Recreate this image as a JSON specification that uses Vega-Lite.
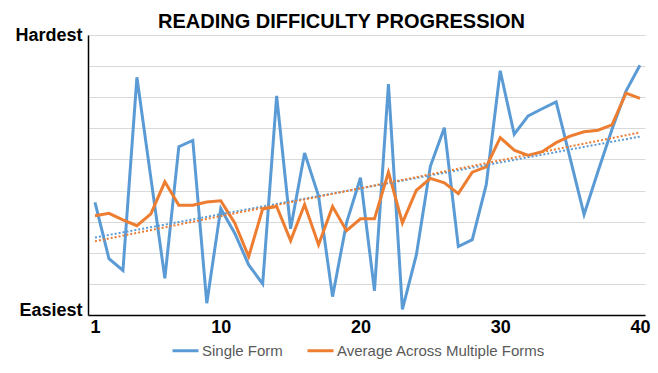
{
  "$schema": "https://vega.github.io/schema/vega-lite/v6.json",
  "width": 557,
  "height": 280,
  "autosize": "none",
  "padding": {"left": 88, "top": 35, "right": 13, "bottom": 58},
  "background": "white",
  "title": {
    "text": "READING DIFFICULTY PROGRESSION",
    "font": "Liberation Sans",
    "fontSize": 20,
    "fontWeight": "bold",
    "color": "#000000",
    "anchor": "middle",
    "dx": -25,
    "offset": -6
  },
  "config": {
    "view": {"stroke": null},
    "axis": {"grid": true, "gridColor": "#d9d9d9", "gridWidth": 1, "ticks": false, "title": null}
  },
  "data": {
    "values": [
      {"s": "Single Form", "x": 1, "v": 3.62}, {"s": "Single Form", "x": 2, "v": 1.81}, {"s": "Single Form", "x": 3, "v": 1.43}, {"s": "Single Form", "x": 4, "v": 7.64},
      {"s": "Single Form", "x": 5, "v": 4.4}, {"s": "Single Form", "x": 6, "v": 1.18}, {"s": "Single Form", "x": 7, "v": 5.41}, {"s": "Single Form", "x": 8, "v": 5.61},
      {"s": "Single Form", "x": 9, "v": 0.38}, {"s": "Single Form", "x": 10, "v": 3.42}, {"s": "Single Form", "x": 11, "v": 2.63}, {"s": "Single Form", "x": 12, "v": 1.61},
      {"s": "Single Form", "x": 13, "v": 1.0}, {"s": "Single Form", "x": 14, "v": 7.04}, {"s": "Single Form", "x": 15, "v": 2.77}, {"s": "Single Form", "x": 16, "v": 5.21},
      {"s": "Single Form", "x": 17, "v": 3.82}, {"s": "Single Form", "x": 18, "v": 0.59}, {"s": "Single Form", "x": 19, "v": 2.96}, {"s": "Single Form", "x": 20, "v": 4.41},
      {"s": "Single Form", "x": 21, "v": 0.78}, {"s": "Single Form", "x": 22, "v": 7.42}, {"s": "Single Form", "x": 23, "v": 0.18}, {"s": "Single Form", "x": 24, "v": 1.94},
      {"s": "Single Form", "x": 25, "v": 4.78}, {"s": "Single Form", "x": 26, "v": 6.02}, {"s": "Single Form", "x": 27, "v": 2.2}, {"s": "Single Form", "x": 28, "v": 2.42},
      {"s": "Single Form", "x": 29, "v": 4.19}, {"s": "Single Form", "x": 30, "v": 7.85}, {"s": "Single Form", "x": 31, "v": 5.81}, {"s": "Single Form", "x": 32, "v": 6.4},
      {"s": "Single Form", "x": 33, "v": 6.63}, {"s": "Single Form", "x": 34, "v": 6.85}, {"s": "Single Form", "x": 35, "v": 5.04}, {"s": "Single Form", "x": 36, "v": 3.23},
      {"s": "Single Form", "x": 37, "v": 4.62}, {"s": "Single Form", "x": 38, "v": 5.97}, {"s": "Single Form", "x": 39, "v": 7.2}, {"s": "Single Form", "x": 40, "v": 8.03},
      {"s": "Average Across Multiple Forms", "x": 1, "v": 3.19}, {"s": "Average Across Multiple Forms", "x": 2, "v": 3.27}, {"s": "Average Across Multiple Forms", "x": 3, "v": 3.06}, {"s": "Average Across Multiple Forms", "x": 4, "v": 2.87},
      {"s": "Average Across Multiple Forms", "x": 5, "v": 3.25}, {"s": "Average Across Multiple Forms", "x": 6, "v": 4.28}, {"s": "Average Across Multiple Forms", "x": 7, "v": 3.53}, {"s": "Average Across Multiple Forms", "x": 8, "v": 3.53},
      {"s": "Average Across Multiple Forms", "x": 9, "v": 3.63}, {"s": "Average Across Multiple Forms", "x": 10, "v": 3.67}, {"s": "Average Across Multiple Forms", "x": 11, "v": 2.96}, {"s": "Average Across Multiple Forms", "x": 12, "v": 1.88},
      {"s": "Average Across Multiple Forms", "x": 13, "v": 3.41}, {"s": "Average Across Multiple Forms", "x": 14, "v": 3.49}, {"s": "Average Across Multiple Forms", "x": 15, "v": 2.39}, {"s": "Average Across Multiple Forms", "x": 16, "v": 3.55},
      {"s": "Average Across Multiple Forms", "x": 17, "v": 2.26}, {"s": "Average Across Multiple Forms", "x": 18, "v": 3.49}, {"s": "Average Across Multiple Forms", "x": 19, "v": 2.71}, {"s": "Average Across Multiple Forms", "x": 20, "v": 3.09},
      {"s": "Average Across Multiple Forms", "x": 21, "v": 3.09}, {"s": "Average Across Multiple Forms", "x": 22, "v": 4.59}, {"s": "Average Across Multiple Forms", "x": 23, "v": 2.96}, {"s": "Average Across Multiple Forms", "x": 24, "v": 4.01},
      {"s": "Average Across Multiple Forms", "x": 25, "v": 4.39}, {"s": "Average Across Multiple Forms", "x": 26, "v": 4.25}, {"s": "Average Across Multiple Forms", "x": 27, "v": 3.9}, {"s": "Average Across Multiple Forms", "x": 28, "v": 4.59},
      {"s": "Average Across Multiple Forms", "x": 29, "v": 4.76}, {"s": "Average Across Multiple Forms", "x": 30, "v": 5.7}, {"s": "Average Across Multiple Forms", "x": 31, "v": 5.3}, {"s": "Average Across Multiple Forms", "x": 32, "v": 5.13},
      {"s": "Average Across Multiple Forms", "x": 33, "v": 5.25}, {"s": "Average Across Multiple Forms", "x": 34, "v": 5.54}, {"s": "Average Across Multiple Forms", "x": 35, "v": 5.75}, {"s": "Average Across Multiple Forms", "x": 36, "v": 5.89},
      {"s": "Average Across Multiple Forms", "x": 37, "v": 5.94}, {"s": "Average Across Multiple Forms", "x": 38, "v": 6.11}, {"s": "Average Across Multiple Forms", "x": 39, "v": 7.13}, {"s": "Average Across Multiple Forms", "x": 40, "v": 6.96}
    ]
  },
  "encoding": {
    "x": {
      "field": "x", "type": "quantitative",
      "scale": {"domain": [0.5, 40.36], "nice": false, "zero": false},
      "axis": {"values": [1, 10, 20, 30, 40], "grid": false, "domainColor": "#000000", "domainWidth": 1.5,
               "labelFont": "Liberation Sans", "labelFontSize": 18, "labelFontWeight": "bold", "labelColor": "#000000", "labelPadding": 3, "labelFlush": false}
    },
    "y": {
      "field": "v", "type": "quantitative",
      "scale": {"domain": [0, 9], "nice": false},
      "axis": {"values": [0, 1, 2, 3, 4, 5, 6, 7, 8, 9], "labelExpr": "datum.value == 9 ? 'Hardest' : datum.value == 0 ? 'Easiest' : ''",
               "domainColor": "#000000", "domainWidth": 1.5,
               "labelFont": "Liberation Sans", "labelFontSize": 18, "labelFontWeight": "bold", "labelColor": "#000000", "labelPadding": 6,
               "labelBaseline": {"condition": {"test": "datum.value == 0", "value": "alphabetic"}, "value": "middle"}}
    },
    "color": {
      "field": "s", "type": "nominal",
      "scale": {"domain": ["Single Form", "Average Across Multiple Forms"], "range": ["#5B9BD5", "#ED7D31"]},
      "legend": {"title": null, "orient": "none", "legendX": 83, "legendY": 301, "direction": "horizontal", "symbolType": "stroke", "symbolSize": 676, "symbolStrokeWidth": 3,
                 "labelFont": "Liberation Sans", "labelFontSize": 15, "labelColor": "#595959", "labelLimit": 400, "columnPadding": 18, "labelOffset": 2}
    }
  },
  "layer": [
    {"mark": {"type": "line", "strokeWidth": 3}},
    {
      "transform": [{"regression": "v", "on": "x", "groupby": ["s"]}],
      "mark": {"type": "line", "strokeWidth": 2, "strokeDash": [2, 2]}
    }
  ]
}
